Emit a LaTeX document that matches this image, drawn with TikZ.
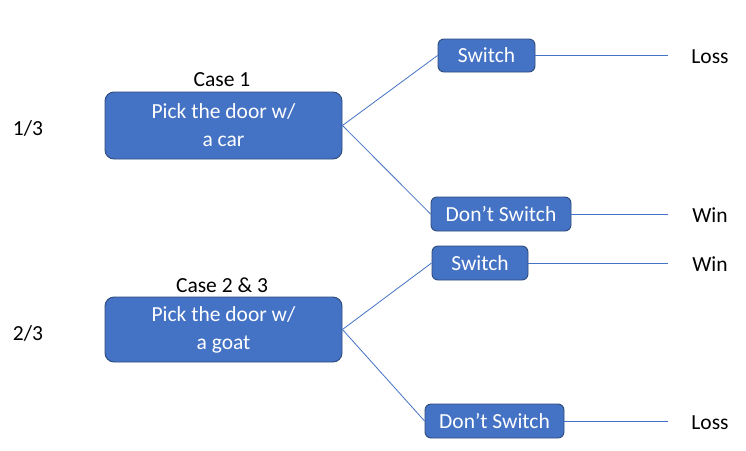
\documentclass[tikz,border=0pt]{standalone}
\usepackage{fontspec}
\setmainfont{Carlito}
\definecolor{boxfill}{HTML}{4472C4}
\definecolor{boxline}{HTML}{2F4B7C}
\definecolor{linkc}{HTML}{4472C4}
\begin{document}
\begin{tikzpicture}[x=1pt,y=-1pt,
  bigbox/.style={draw=boxline, line width=0.9pt, fill=boxfill, rounded corners=9pt, inner sep=0pt,
    minimum width=237pt, text=white, align=center, font=\fontsize{21.5}{28}\selectfont},
  smallbox/.style={draw=boxline, line width=0.9pt, fill=boxfill, rounded corners=6pt, inner sep=0pt,
    minimum height=34pt, text=white, font=\fontsize{21.5}{26}\selectfont},
  lbl/.style={inner sep=0pt, font=\fontsize{21.5}{26}\selectfont},
  link/.style={draw=linkc, line width=0.8pt}]
\useasboundingbox (0,0) rectangle (746,450);
\node[bigbox, minimum height=67pt] (b1) at (223.5,125.5) {Pick the door w/\\a car};
\node[bigbox, minimum height=65pt] (b2) at (223.5,329.5) {Pick the door w/\\a goat};
\node[lbl] (c1) at (222,80) {Case 1};
\node[lbl] (c2) at (222,285) {Case 2 \& 3};
\node[lbl] (p1) at (28,128) {1/3};
\node[lbl] (p2) at (28,333) {2/3};
\node[smallbox, minimum width=97pt, minimum height=33pt] (s1) at (486.5,55.5) {Switch};
\node[smallbox, minimum width=140pt] (d1) at (501,214) {Don’t Switch};
\node[smallbox, minimum width=96pt] (s2) at (480,263) {Switch};
\node[smallbox, minimum width=139pt] (d2) at (494.5,421) {Don’t Switch};
\coordinate (e1) at (668,55.5);
\coordinate (e2) at (668,214);
\coordinate (e3) at (668,263);
\coordinate (e4) at (668,421);
\node[lbl] (o1) at (710,57) {Loss};
\node[lbl] (o2) at (710,215) {Win};
\node[lbl] (o3) at (710,264) {Win};
\node[lbl] (o4) at (710,423) {Loss};
\draw[link] (b1.east) -- (s1.west);
\draw[link] (b1.east) -- (d1.west);
\draw[link] (b2.east) -- (s2.west);
\draw[link] (b2.east) -- (d2.west);
\draw[link] (s1.east) -- (e1);
\draw[link] (d1.east) -- (e2);
\draw[link] (s2.east) -- (e3);
\draw[link] (d2.east) -- (e4);
\end{tikzpicture}
\end{document}
